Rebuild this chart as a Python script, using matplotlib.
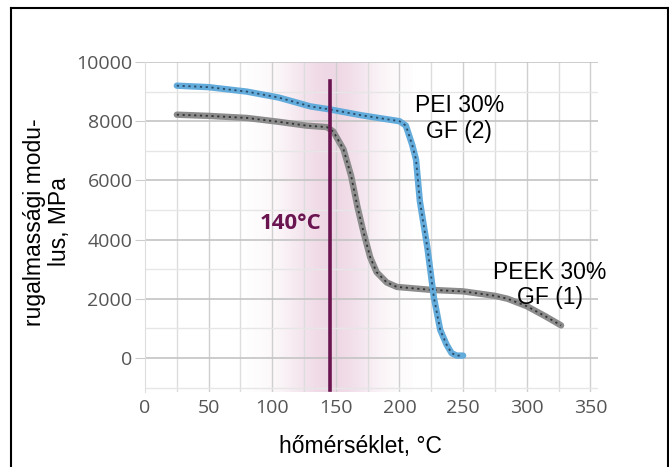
import numpy as np
import matplotlib.pyplot as plt
from matplotlib.lines import Line2D

# PEI 30% GF (2) - blue curve
pei_temp = [25, 50, 80, 105, 130, 145, 170, 200, 205, 210, 213, 216, 222, 227, 232, 237, 241, 245, 250]
pei_mod = [9200, 9150, 9000, 8800, 8500, 8400, 8200, 8000, 7850, 7200, 6700, 5300, 3700, 2050, 950, 450, 160, 80, 80]

# PEEK 30% GF (1) - gray curve
peek_temp = [25, 50, 80, 105, 127, 143, 148, 156, 162, 167, 172, 177, 182, 190, 198, 225, 250, 275, 285, 300, 315, 327]
peek_mod = [8220, 8180, 8110, 7980, 7850, 7800, 7650, 7050, 6150, 5100, 4200, 3400, 2900, 2550, 2400, 2300, 2250, 2100, 2000, 1750, 1400, 1100]

marker_temp = 145
marker_label = "140°C"

x_ticks = [0, 50, 100, 150, 200, 250, 300, 350]
y_ticks = [0, 2000, 4000, 6000, 8000, 10000]

W, H = 669, 467
fig = plt.figure(figsize=(W / 100, H / 100), dpi=100)
ax = fig.add_axes([145 / W, 1 - 392 / H, (598 - 145) / W, (392 - 62) / H])

ax.set_xlim(0, 356)
ax.set_ylim(-1150, 10000)

# pink shading around the marker line
xs = np.linspace(80, 210, 300)
shade = np.exp(-((xs - 146) / 36) ** 2)
ax.imshow(shade[np.newaxis, :], extent=[80, 210, -1150, 10000], aspect='auto',
          cmap=plt.matplotlib.colors.LinearSegmentedColormap.from_list('p', ['#ffffff', '#efd8e5']),
          vmin=0, vmax=1, zorder=0)

# grid
for x in np.arange(25, 351, 25):
    c = '#cfcfcf' if x % 50 == 0 else '#dddddd'
    ax.plot([x, x], [-1150, 10000], color=c, lw=1.0, zorder=1)
for y in np.arange(-1000, 10001, 1000):
    c = '#c4c4c4' if y % 2000 == 0 else '#e6e6e6'
    ax.plot([0, 356], [y, y], color=c, lw=1.2 if y % 2000 == 0 else 1.0, zorder=1)

# marker line
ax.plot([marker_temp, marker_temp], [9350, -1080], color='#6a1450', lw=2.6, zorder=4)
ax.text(139, 4550, marker_label, color='#6a1450', fontsize=16, fontweight='bold',
        family='Open Sans', ha='right', va='center', zorder=5)

# curves
ax.plot(peek_temp, peek_mod, color='#8c8c8c', lw=4.6, solid_capstyle='round', zorder=3)
ax.plot(peek_temp, peek_mod, color='#333333', lw=1.3, ls=(0, (1.2, 2)), zorder=3)
ax.plot(pei_temp, pei_mod, color='#62abdb', lw=4.6, solid_capstyle='round', zorder=3)
ax.plot(pei_temp, pei_mod, color='#2b4a66', lw=1.3, ls=(0, (1.2, 2)), zorder=3)

ax.text(247, 8100, "PEI 30%\nGF (2)", fontsize=16.5, family='Liberation Sans',
        ha='center', va='center', linespacing=1.15, zorder=6)
ax.text(318, 2470, "PEEK 30%\nGF (1)", fontsize=16.5, family='Liberation Sans',
        ha='center', va='center', linespacing=1.15, zorder=6)

for s in ax.spines.values():
    s.set_visible(False)
ax.spines['left'].set_visible(True)
ax.spines['left'].set_color('#dddddd')

ax.set_xticks(x_ticks)
ax.set_yticks(y_ticks)
ax.tick_params(axis='x', length=0, pad=5, labelsize=14, labelcolor='#555555')
ax.tick_params(axis='y', length=7, color='#cccccc', pad=2, labelsize=14, labelcolor='#555555')
for lab in ax.get_xticklabels() + ax.get_yticklabels():
    lab.set_family('Open Sans')

fig.text(47 / W, 1 - 222 / H, "rugalmassági modu-\nlus, MPa", rotation=90, fontsize=16.5,
         family='Liberation Sans', ha='center', va='center', linespacing=1.15)
fig.text(360 / W, 1 - 447 / H, "hőmérséklet, °C", fontsize=16.5,
         family='Liberation Sans', ha='center', va='center')

# outer frame
fig.add_artist(Line2D([11 / W, 11 / W], [0, 1 - 8 / H], color='black', lw=1.5))
fig.add_artist(Line2D([11 / W, 1], [1 - 8 / H, 1 - 8 / H], color='black', lw=1.5))
fig.add_artist(Line2D([668 / W, 668 / W], [0, 1 - 8 / H], color='black', lw=1.5))

fig.savefig('out.png', dpi=100)
